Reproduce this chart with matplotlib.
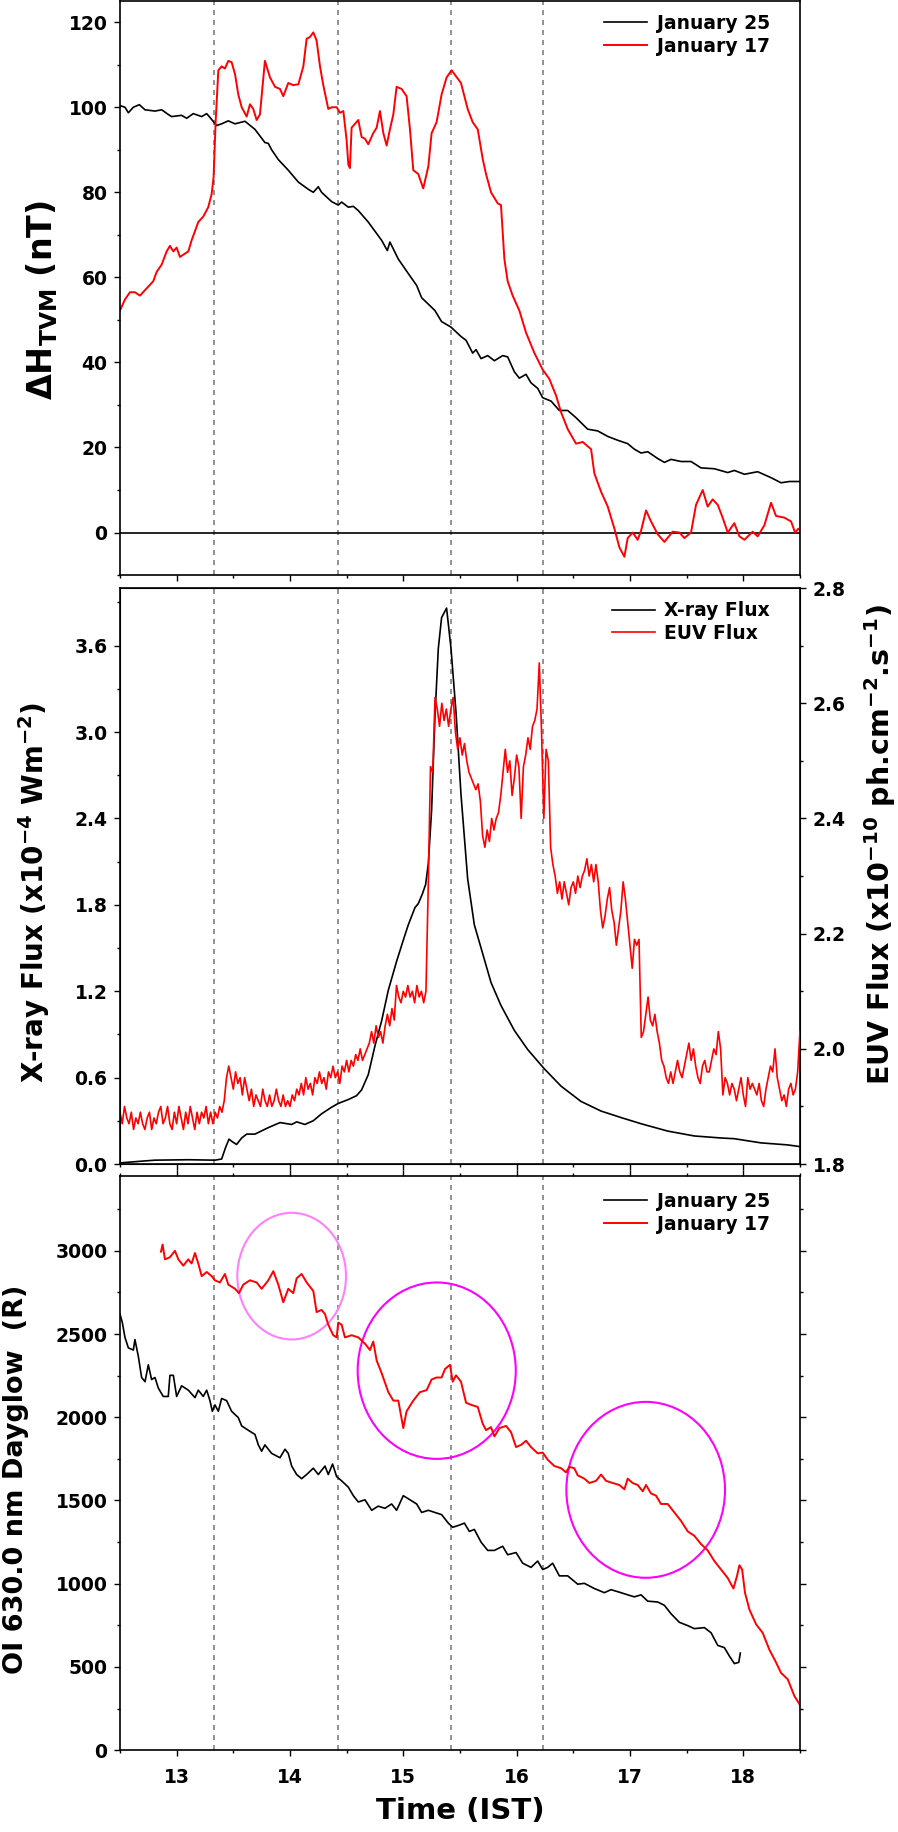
import numpy as np
import matplotlib
matplotlib.use('Agg')
import matplotlib.pyplot as plt
from matplotlib.patches import Ellipse
from matplotlib.ticker import MultipleLocator

plt.rcParams['font.family'] = ['DejaVu Sans']
plt.rcParams['font.weight'] = 'bold'
plt.rcParams['axes.labelweight'] = 'bold'
plt.rcParams['mathtext.fontset'] = 'dejavusans'
plt.rcParams['mathtext.default'] = 'bf'

# --- panel 1: magnetometer dH at TVM ---
h25_t = [12.50, 12.544, 12.574, 12.618, 12.671, 12.721, 12.809, 12.868, 12.926, 12.956,
         13.044, 13.088, 13.147, 13.221, 13.265, 13.294, 13.353, 13.397, 13.456, 13.515,
         13.603, 13.691, 13.779, 13.809, 13.838, 13.897, 13.985, 14.074, 14.162, 14.206,
         14.25, 14.279, 14.368, 14.426, 14.456, 14.515, 14.559, 14.603, 14.691, 14.809,
         14.859, 14.882, 14.956, 15.044, 15.118, 15.162, 15.221, 15.279, 15.338, 15.421,
         15.509, 15.554, 15.612, 15.642, 15.686, 15.745, 15.804, 15.877, 15.921, 15.98,
         16.024, 16.083, 16.127, 16.186, 16.23, 16.304, 16.377, 16.451, 16.524, 16.627,
         16.715, 16.804, 16.892, 16.98, 17.039, 17.098, 17.157, 17.245, 17.304, 17.363,
         17.451, 17.539, 17.627, 17.745, 17.863, 17.921, 18.01, 18.127, 18.245, 18.333,
         18.407, 18.50]
h25_v = [100.4, 100, 98.7, 100, 100.6, 99.4, 99.1, 99.4, 98.3, 97.8,
         98.1, 97.4, 98.5, 97.8, 98.5, 97.6, 95.7, 96.1, 96.8, 96.1,
         96.7, 94.8, 91.7, 91.5, 90, 87.7, 85.2, 82.4, 80.7, 80,
         81.3, 80, 77.8, 77, 77.7, 76.5, 76.7, 75.7, 73, 68.7,
         66.3, 68.3, 64.3, 60.9, 58.1, 55.2, 53.7, 52.2, 49.6, 48.3,
         46.1, 45.2, 42.2, 43, 40.9, 41.6, 40.4, 41.6, 41.3, 37.8,
         36.3, 37.2, 35.2, 33.9, 31.7, 30.9, 28.7, 28.7, 27, 24.3,
         23.9, 22.6, 21.7, 20.9, 19.6, 18.7, 19, 17.4, 16.5, 17.2,
         16.7, 16.7, 15.2, 15, 14.1, 14.6, 13.7, 14.3, 12.9, 11.7,
         12, 12]

h17_t = [12.50, 12.544, 12.588, 12.632, 12.676, 12.721, 12.75, 12.794, 12.824, 12.868,
         12.912, 12.941, 12.971, 13.0, 13.029, 13.103, 13.132, 13.191, 13.235, 13.279,
         13.309, 13.326, 13.344, 13.368, 13.397, 13.426, 13.456, 13.485, 13.515, 13.544,
         13.574, 13.618, 13.647, 13.676, 13.706, 13.735, 13.779, 13.824, 13.868, 13.912,
         13.941, 13.985, 14.029, 14.074, 14.118, 14.147, 14.176, 14.206, 14.235, 14.265,
         14.294, 14.338, 14.368, 14.412, 14.441, 14.471, 14.50, 14.515, 14.529, 14.544,
         14.574, 14.603, 14.632, 14.662, 14.691, 14.735, 14.765, 14.794, 14.824, 14.853,
         14.882, 14.912, 14.941, 14.985, 15.029, 15.059, 15.088, 15.132, 15.176, 15.221,
         15.25, 15.294, 15.338, 15.382, 15.426, 15.509, 15.568, 15.612, 15.657, 15.701,
         15.73, 15.774, 15.833, 15.862, 15.892, 15.921, 15.965, 16.024, 16.083, 16.157,
         16.23, 16.289, 16.348, 16.392, 16.451, 16.524, 16.583, 16.657, 16.686, 16.745,
         16.804, 16.863, 16.907, 16.951, 16.98, 17.024, 17.068, 17.098, 17.142, 17.186,
         17.245, 17.304, 17.377, 17.436, 17.48, 17.539, 17.583, 17.642, 17.686, 17.73,
         17.775, 17.818, 17.863, 17.921, 17.966, 18.01, 18.083, 18.127, 18.186, 18.245,
         18.289, 18.363, 18.422, 18.457, 18.486, 18.51]
h17_v = [52.2, 54.8, 56.5, 56.5, 55.7, 57, 57.8, 59.1, 61.3, 63,
         66.1, 67.4, 66.1, 67, 64.8, 66.1, 68.7, 73, 74.3, 76.5,
         79.6, 83.5, 96.5, 108.7, 109.6, 109.1, 110.9, 110.6, 107.8, 103,
         100, 97.8, 100.7, 99.6, 97, 98.3, 110.9, 107, 104.8, 104.3,
         102.6, 105.7, 105.2, 105.4, 109.6, 116.1, 116.5, 117.6, 115.7, 109.6,
         105.2, 99.6, 100, 100, 98.7, 99.1, 92.2, 86.5, 85.7, 95.2,
         96.1, 97, 93, 92.6, 91.3, 93.9, 95.2, 99.1, 93.9, 91,
         94.8, 98.3, 104.8, 104.3, 102.6, 94.8, 85.2, 84.3, 80.9, 86.1,
         93.9, 96.5, 103, 107, 108.7, 105.7, 99.6, 96.5, 94.8, 87.8,
         84.3, 80, 77.4, 77, 64.3, 59.1, 55.7, 52.2, 47, 42.2,
         38.3, 36.1, 32.2, 28.3, 24.3, 20.9, 21.3, 19.6, 13.9, 9.6,
         6.1, 0.9, -3.5, -5.7, -1.3, 0, -1.7, 0.4, 5.2, 2.6,
         -0.4, -2.2, 0.2, 0, -1.3, 0, 6.5, 10, 6.1, 7.8,
         6.5, 3.5, 0, 2.2, -0.9, -1.7, 0.2, -0.9, 1.7, 7,
         3.9, 3.5, 2.6, 0, 0.9, 0.4]

# --- panel 2: X-ray and EUV flux ---
xray_t = [12.50, 12.691, 12.809, 13.103, 13.338, 13.397, 13.432, 13.462, 13.491, 13.529,
          13.574, 13.618, 13.691, 13.809, 13.912, 14.015, 14.059, 14.132, 14.206, 14.279,
          14.368, 14.426, 14.515, 14.588, 14.632, 14.691, 14.75, 14.809, 14.868, 14.941,
          15.0, 15.044, 15.103, 15.132, 15.168, 15.197, 15.221, 15.25, 15.279, 15.309,
          15.338, 15.382, 15.421, 15.466, 15.509, 15.568, 15.627, 15.686, 15.774, 15.862,
          15.98, 16.098, 16.245, 16.392, 16.568, 16.745, 16.921, 17.098, 17.333, 17.568,
          17.804, 17.921, 18.157, 18.392, 18.51]
xray_v = [0.008, 0.02, 0.027, 0.03, 0.027, 0.035, 0.115, 0.173, 0.155, 0.136,
          0.181, 0.208, 0.208, 0.253, 0.288, 0.275, 0.293, 0.275, 0.301, 0.349,
          0.395, 0.421, 0.448, 0.475, 0.515, 0.621, 0.821, 0.995, 1.208, 1.408,
          1.555, 1.661, 1.781, 1.808, 1.875, 1.941, 2.088, 2.461, 3.101, 3.581,
          3.795, 3.861, 3.581, 3.128, 2.568, 1.981, 1.661, 1.501, 1.261, 1.101,
          0.928, 0.795, 0.661, 0.541, 0.435, 0.368, 0.323, 0.28, 0.229, 0.195,
          0.181, 0.176, 0.147, 0.133, 0.12]

# EUV sampled every 0.02 h from 12.50 to 18.50
euv_v = [1.89, 1.87, 1.90, 1.88, 1.87, 1.89, 1.86, 1.88, 1.87, 1.89,
         1.87, 1.86, 1.88, 1.89, 1.86, 1.88, 1.87, 1.89, 1.90, 1.87,
         1.88, 1.90, 1.87, 1.86, 1.89, 1.87, 1.90, 1.88, 1.86, 1.89,
         1.87, 1.90, 1.88, 1.86, 1.89, 1.87, 1.89, 1.88, 1.90, 1.87,
         1.89, 1.87, 1.89, 1.88, 1.90, 1.89, 1.91, 1.95, 1.97, 1.95,
         1.93, 1.96, 1.94, 1.95, 1.92, 1.95, 1.93, 1.91, 1.93, 1.90,
         1.92, 1.91, 1.90, 1.93, 1.91, 1.90, 1.92, 1.90, 1.91, 1.93,
         1.91, 1.90, 1.92, 1.90, 1.91, 1.90, 1.92, 1.91, 1.93, 1.92,
         1.94, 1.92, 1.95, 1.93, 1.94, 1.92, 1.95, 1.94, 1.96, 1.94,
         1.95, 1.93, 1.96, 1.95, 1.97, 1.95, 1.96, 1.94, 1.97, 1.96,
         1.98, 1.96, 1.98, 1.97, 1.99, 1.98, 2.00, 1.98, 1.99, 2.00,
         2.01, 2.03, 2.01, 2.04, 2.02, 2.03, 2.01, 2.04, 2.06, 2.04,
         2.07, 2.05, 2.11, 2.09, 2.08, 2.10, 2.09, 2.11, 2.09, 2.10,
         2.08, 2.11, 2.09, 2.10, 2.08, 2.10, 2.28, 2.49, 2.48, 2.61,
         2.59, 2.56, 2.60, 2.57, 2.59, 2.56, 2.59, 2.61, 2.55, 2.52,
         2.54, 2.51, 2.53, 2.50, 2.48, 2.47, 2.46, 2.45, 2.46, 2.43,
         2.37, 2.35, 2.38, 2.36, 2.40, 2.38, 2.40, 2.41, 2.44, 2.48,
         2.52, 2.48, 2.50, 2.44, 2.47, 2.51, 2.49, 2.40, 2.49, 2.51,
         2.54, 2.52, 2.56, 2.57, 2.59, 2.67, 2.55, 2.40, 2.52, 2.50,
         2.35, 2.32, 2.30, 2.27, 2.29, 2.26, 2.29, 2.27, 2.25, 2.28,
         2.29, 2.27, 2.30, 2.28, 2.30, 2.31, 2.33, 2.30, 2.32, 2.29,
         2.32, 2.29, 2.24, 2.21, 2.23, 2.26, 2.28, 2.24, 2.22, 2.18,
         2.21, 2.24, 2.29, 2.26, 2.22, 2.18, 2.14, 2.19, 2.18, 2.19,
         2.02, 2.03, 2.06, 2.09, 2.05, 2.04, 2.06, 2.03, 2.01, 1.98,
         1.97, 1.95, 1.94, 1.96, 1.94, 1.96, 1.98, 1.96, 1.95, 1.97,
         1.99, 2.01, 1.98, 2.00, 1.97, 1.95, 1.94, 1.97, 1.98, 1.96,
         1.96, 1.98, 2.00, 1.99, 2.03, 2.00, 1.92, 1.95, 1.94, 1.92,
         1.94, 1.93, 1.91, 1.93, 1.95, 1.92, 1.90, 1.95, 1.93, 1.94,
         1.93, 1.92, 1.94, 1.91, 1.90, 1.93, 1.95, 1.97, 1.96, 2.00,
         1.95, 1.93, 1.91, 1.92, 1.90, 1.93, 1.94, 1.92, 1.93, 1.96,
         2.03]
euv_t = np.linspace(12.5, 18.5, len(euv_v))

# --- panel 3: OI 630.0 nm dayglow ---
oi25_t = [12.50, 12.521, 12.544, 12.574, 12.618, 12.632, 12.662, 12.691, 12.721, 12.75,
          12.779, 12.809, 12.838, 12.882, 12.926, 12.941, 12.971, 13.0, 13.044, 13.103,
          13.162, 13.191, 13.235, 13.265, 13.294, 13.315, 13.338, 13.368, 13.397, 13.441,
          13.485, 13.544, 13.574, 13.632, 13.691, 13.721, 13.75, 13.779, 13.838, 13.912,
          13.956, 13.985, 14.015, 14.059, 14.103, 14.147, 14.206, 14.25, 14.309, 14.338,
          14.376, 14.412, 14.456, 14.515, 14.559, 14.603, 14.662, 14.721, 14.779, 14.838,
          14.897, 14.941, 15.0, 15.059, 15.118, 15.162, 15.221, 15.279, 15.338, 15.397,
          15.436, 15.495, 15.539, 15.583, 15.627, 15.686, 15.745, 15.804, 15.877, 15.921,
          15.995, 16.054, 16.127, 16.186, 16.23, 16.274, 16.318, 16.377, 16.451, 16.539,
          16.598, 16.686, 16.774, 16.833, 16.921, 16.98, 17.039, 17.098, 17.157, 17.245,
          17.304, 17.363, 17.436, 17.51, 17.568, 17.657, 17.716, 17.775, 17.833, 17.877,
          17.921, 17.96, 17.974]
oi25_v = [2620, 2569, 2480, 2417, 2404, 2467, 2366, 2239, 2214, 2315,
          2227, 2239, 2176, 2125, 2125, 2252, 2252, 2125, 2189, 2163,
          2118, 2163, 2125, 2163, 2100, 2036, 2074, 2036, 2113, 2100,
          2036, 1998, 1948, 1922, 1897, 1834, 1796, 1834, 1783, 1757,
          1808, 1783, 1707, 1656, 1631, 1656, 1694, 1656, 1707, 1656,
          1719, 1643, 1618, 1580, 1529, 1491, 1504, 1441, 1466, 1453,
          1479, 1441, 1529, 1504, 1479, 1428, 1441, 1428, 1415, 1364,
          1339, 1352, 1364, 1314, 1326, 1250, 1200, 1200, 1225, 1174,
          1187, 1123, 1098, 1136, 1085, 1098, 1123, 1047, 1047, 997,
          1002, 971, 946, 964, 946, 933, 921, 933, 895, 890,
          870, 819, 768, 748, 730, 736, 705, 629, 616, 566,
          520, 527, 583]

oi17_t = [12.862, 12.876, 12.897, 12.941, 12.985, 13.015, 13.059, 13.103, 13.132, 13.162,
          13.191, 13.221, 13.265, 13.309, 13.338, 13.382, 13.426, 13.456, 13.515, 13.55,
          13.588, 13.647, 13.706, 13.75, 13.809, 13.853, 13.897, 13.941, 13.985, 14.029,
          14.059, 14.103, 14.147, 14.206, 14.235, 14.279, 14.309, 14.338, 14.382, 14.412,
          14.426, 14.456, 14.485, 14.544, 14.603, 14.662, 14.706, 14.735, 14.765, 14.809,
          14.868, 14.912, 14.956, 15.0, 15.029, 15.088, 15.147, 15.206, 15.25, 15.294,
          15.338, 15.368, 15.412, 15.436, 15.465, 15.509, 15.554, 15.598, 15.657, 15.701,
          15.73, 15.774, 15.804, 15.848, 15.907, 15.951, 15.995, 16.039, 16.083, 16.127,
          16.186, 16.23, 16.274, 16.333, 16.392, 16.436, 16.465, 16.509, 16.539, 16.598,
          16.642, 16.701, 16.745, 16.789, 16.848, 16.907, 16.951, 16.98, 17.024, 17.068,
          17.113, 17.142, 17.186, 17.23, 17.274, 17.333, 17.392, 17.451, 17.51, 17.568,
          17.627, 17.686, 17.745, 17.818, 17.862, 17.913, 17.945, 17.966, 17.99, 18.015,
          18.054, 18.113, 18.171, 18.23, 18.289, 18.333, 18.392, 18.451, 18.51]
oi17_v = [2995, 3038, 2949, 2962, 3000, 2949, 2911, 2949, 2924, 2987,
          2924, 2848, 2873, 2848, 2823, 2810, 2861, 2797, 2772, 2746,
          2797, 2823, 2810, 2772, 2823, 2878, 2797, 2691, 2772, 2746,
          2835, 2861, 2810, 2759, 2632, 2645, 2620, 2556, 2493, 2480,
          2569, 2556, 2480, 2493, 2480, 2442, 2404, 2455, 2341, 2265,
          2151, 2100, 2100, 1935, 2036, 2100, 2151, 2163, 2227, 2239,
          2239, 2290, 2315, 2214, 2252, 2214, 2087, 2075, 2062, 1961,
          1923, 1941, 1885, 1935, 1948, 1910, 1821, 1834, 1859, 1821,
          1783, 1788, 1745, 1707, 1694, 1669, 1702, 1694, 1651, 1631,
          1605, 1618, 1656, 1618, 1605, 1593, 1567, 1631, 1605, 1593,
          1555, 1593, 1542, 1529, 1479, 1479, 1428, 1377, 1314, 1288,
          1238, 1200, 1136, 1073, 1035, 971, 1047, 1111, 1085, 946,
          845, 756, 705, 604, 527, 464, 426, 325, 261]

event_times = [13.33, 14.42, 15.42, 16.23]

# highlighted regions on the dayglow panel (centre x, centre y, width, height)
circle_x = [14.015, 15.295, 17.139]
circle_y = [2848, 2280, 1564]
circle_w = [0.959, 1.395, 1.40]
circle_h = [761, 1060, 1057]
circle_c = ['#ff80ff', '#ff00ff', '#ff00ff']


def style(ax):
    ax.set_xlim(12.5, 18.5)
    ax.xaxis.set_major_locator(MultipleLocator(1))
    ax.xaxis.set_minor_locator(MultipleLocator(0.5))
    ax.tick_params(which='major', length=4, width=1, direction='out', labelsize=13.5, pad=5)
    ax.tick_params(which='minor', length=2.5, width=1, direction='out')
    ax.tick_params(axis='x', which='major', pad=9)
    for s in ax.spines.values():
        s.set_linewidth(1.2)
    for t in event_times:
        ax.axvline(t, color='#808080', lw=1.2, ls=(0, (3, 3)), zorder=1)


fig = plt.figure(figsize=(8.98, 18.32), dpi=100)
ax1 = fig.add_axes([0.1336, 0.6861, 0.7572, 0.3134])
ax2 = fig.add_axes([0.1336, 0.3646, 0.7572, 0.3144])
ax3 = fig.add_axes([0.1336, 0.0447, 0.7572, 0.3134])

legend_kw = dict(loc='upper right', frameon=False, fontsize=13.5, handlelength=2.3,
                 handletextpad=0.5, labelspacing=0.2, borderaxespad=0.3)

# panel 1
style(ax1)
ax1.axhline(0, color='black', lw=1.2)
ax1.plot(h25_t, h25_v, color='black', lw=1.2, label='January 25')
ax1.plot(h17_t, h17_v, color='red', lw=1.4, label='January 17')
ax1.set_ylim(-10, 125)
ax1.yaxis.set_major_locator(MultipleLocator(20))
ax1.yaxis.set_minor_locator(MultipleLocator(10))
ax1.tick_params(axis='x', labelbottom=False)
ax1.set_ylabel(r'$\Delta H_{TVM}$ (nT)', fontsize=24)
ax1.yaxis.set_label_coords(-0.088, 0.479)
ax1.legend(bbox_to_anchor=(0.975, 1.0), **legend_kw)

# panel 2
style(ax2)
ax2.plot(xray_t, xray_v, color='black', lw=1.2, label='X-ray Flux')
ax2.set_ylim(0, 4.0)
ax2.yaxis.set_major_locator(MultipleLocator(0.6))
ax2.yaxis.set_minor_locator(MultipleLocator(0.3))
ax2.tick_params(axis='x', labelbottom=False)
ax2.set_ylabel(r'X-ray Flux (x10$^{-4}$ Wm$^{-2}$)', fontsize=20)
ax2.yaxis.set_label_coords(-0.100, 0.472)
ax2r = ax2.twinx()
ax2r.plot(euv_t, euv_v, color='red', lw=1.2, label='EUV Flux')
ax2r.set_ylim(1.8, 2.8)
ax2r.yaxis.set_major_locator(MultipleLocator(0.2))
ax2r.yaxis.set_minor_locator(MultipleLocator(0.1))
ax2r.tick_params(which='major', length=4, width=1, direction='out', labelsize=13.5, pad=5)
ax2r.tick_params(which='minor', length=2.5, width=1, direction='out')
ax2r.set_ylabel(r'EUV Flux (x10$^{-10}$ ph.cm$^{-2}$.s$^{-1}$)', fontsize=20.5)
ax2r.yaxis.set_label_coords(1.091, 0.554)
h_a, l_a = ax2.get_legend_handles_labels()
h_b, l_b = ax2r.get_legend_handles_labels()
ax2r.legend(h_a + h_b, l_a + l_b, bbox_to_anchor=(0.975, 1.0), **legend_kw)

# panel 3
style(ax3)
ax3.plot(oi25_t, oi25_v, color='black', lw=1.2, label='January 25')
ax3.plot(oi17_t, oi17_v, color='red', lw=1.4, label='January 17')
for cx, cy, cw, ch, cc in zip(circle_x, circle_y, circle_w, circle_h, circle_c):
    ax3.add_patch(Ellipse((cx, cy), cw, ch, fill=False, edgecolor=cc, lw=1.5))
ax3.set_ylim(0, 3450)
ax3.yaxis.set_major_locator(MultipleLocator(500))
ax3.yaxis.set_minor_locator(MultipleLocator(250))
ax3.tick_params(which='both', top=True, right=True)
ax3.set_ylabel('OI 630.0 nm Dayglow  (R)', fontsize=19.5)
ax3.yaxis.set_label_coords(-0.134, 0.472)
ax3.set_xlabel('Time (IST)', fontsize=21, labelpad=7)
ax3.legend(bbox_to_anchor=(0.975, 0.995), **legend_kw)

fig.savefig('out.png', dpi=100)
